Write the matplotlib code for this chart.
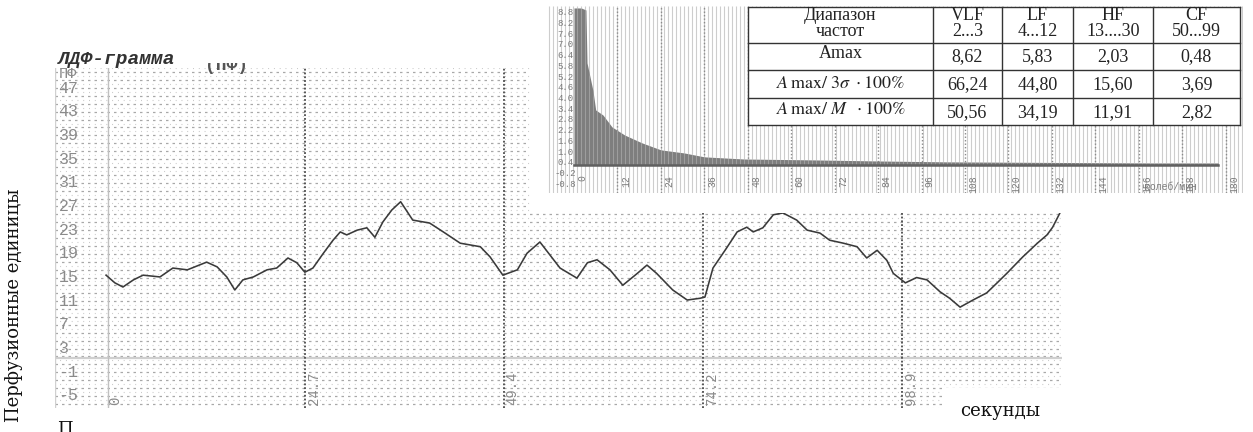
import numpy as np
import matplotlib
matplotlib.use("Agg")
import matplotlib.pyplot as plt
from matplotlib.patches import Rectangle

plt.rcParams['mathtext.fontset'] = 'stix'

# ---------------- data ----------------
ldf_time = [0.0, 1.1, 2.1, 3.4, 4.6, 6.7, 8.3, 10.1, 12.5, 13.8, 15.0, 16.0, 17.0, 18.3,
            20.0, 21.2, 22.6, 23.7, 24.7, 25.7, 27.0, 28.2, 29.1, 29.9, 31.2, 32.4, 33.4,
            34.4, 35.5, 36.6, 38.1, 40.2, 41.9, 44.0, 46.5, 47.7, 49.3, 51.1, 52.3, 53.9,
            56.4, 58.5, 59.8, 61.0, 62.6, 64.2, 66.0, 67.2, 68.4, 70.4, 72.2, 73.8, 74.4,
            75.4, 77.1, 78.4, 79.6, 80.4, 81.6, 82.9, 84.1, 85.8, 87.1, 88.7, 89.9, 91.6,
            93.3, 94.5, 95.8, 97.0, 97.8, 99.3, 100.7, 102.0, 103.6, 104.8, 106.1, 107.7,
            109.4, 110.7, 111.9, 113.9, 115.7, 116.9, 117.6, 118.5, 119.0]
ldf_value = [15.4, 14.1, 13.4, 14.6, 15.4, 15.1, 16.6, 16.3, 17.6, 16.8, 15.1, 12.9, 14.6, 15.1,
             16.3, 16.6, 18.3, 17.5, 15.9, 16.6, 19.1, 21.3, 22.7, 22.2, 23.0, 23.4, 21.8,
             24.4, 26.4, 27.8, 24.7, 24.2, 22.7, 20.8, 20.2, 18.5, 15.4, 16.3, 19.1, 21.0,
             16.6, 14.9, 17.5, 18.0, 16.3, 13.7, 15.7, 17.1, 15.7, 12.9, 11.2, 11.5, 11.7,
             16.6, 20.0, 22.7, 23.5, 22.7, 23.4, 25.6, 25.9, 24.7, 23.0, 22.5, 21.3, 20.8,
             20.2, 18.3, 19.6, 17.9, 15.7, 14.1, 15.0, 14.6, 12.6, 11.5, 10.0, 11.2,
             12.4, 14.1, 15.7, 18.5, 20.8, 22.2, 23.5, 25.9, 28.9]

time_ticks = [0, 24.7, 49.4, 74.2, 98.9]
time_tick_labels = ["0", "24.7", "49.4", "74.2", "98.9"]
perf_ticks = [47, 43, 39, 35, 31, 27, 23, 19, 15, 11, 7, 3, -1, -5]
perf_tick_labels = ["47", "43", "39", "35", "31", "27", "23", "19", "15", "11", "7", "3", "-1", "-5"]
perf_unit = "ПФ"

spec_freq = [0, 2, 3.3, 3.6, 5.2, 6, 8, 10.5, 14, 18.8, 24, 30.4, 36, 47, 66, 84, 103, 130, 160, 178]
spec_amp = [9.06, 9.06, 8.95, 5.99, 4.48, 3.36, 3.08, 2.41, 1.96, 1.52, 1.13, 0.96, 0.74, 0.62,
            0.57, 0.51, 0.46, 0.43, 0.40, 0.40]
spec_base = 0.29
spec_freq_ticks = [0, 12, 24, 36, 48, 60, 72, 84, 96, 108, 120, 132, 144, 156, 168, 180]
spec_amp_ticks = [-0.8, -0.2, 0.4, 1.0, 1.6, 2.2, 2.8, 3.4, 4.0, 4.6, 5.2, 5.8, 6.4, 7.0, 7.6, 8.2, 8.8]

table_header_top = ["Диапазон", "VLF", "LF", "HF", "CF"]
table_header_bottom = ["частот", "2...3", "4...12", "13....30", "50...99"]
table_row_labels = ["Amax",
                    r"$A\,\mathrm{max/\ 3}\sigma\ \cdot\mathrm{100\%}$",
                    r"$A\,\mathrm{max/\ }M\ \ \cdot\mathrm{100\%}$"]
table_values = [["8,62", "5,83", "2,03", "0,48"],
                ["66,24", "44,80", "15,60", "3,69"],
                ["50,56", "34,19", "11,91", "2,82"]]

# ---------------- layout helpers ----------------
W, H = 1253, 432
fig = plt.figure(figsize=(W / 100, H / 100), dpi=100)


def fx(px):
    return px / W


def fy(py):
    return 1 - py / H


def box(x0, y0, x1, y1):
    return [fx(x0), fy(y1), (x1 - x0) / W, (y1 - y0) / H]


MONO = 'Liberation Mono'
GRAY_TXT = '#8a8a8a'

# ---------------- main LDF chart ----------------
ax = fig.add_axes(box(55, 68, 1062, 408))
ax.set_xlim(-6.34, 118.76)
ax.set_ylim(-7.03, 50.38)
ax.set_axis_off()

for k in range(-82, 6):
    y = 47 + k * (2 / 3)
    if k % 2 == 0:
        ax.axhline(y, color='#a8a8a8', lw=0.9, linestyle=(0, (2.0, 3.2)), zorder=1)
    else:
        ax.axhline(y, color='#c4c4c4', lw=0.8, linestyle=(1, (0.8, 4.4)), zorder=1)

ax.axhline(1.4, color='#cfcfcf', lw=1.6, zorder=1)
ax.axvline(-6.3, color='#d0d0d0', lw=1.0, zorder=1)

for t in time_ticks:
    if t == 0:
        ax.axvline(t + 0.25, color='#c0c0c0', lw=1.0, zorder=2)
    else:
        ax.axvline(t, color='#4a4a4a', lw=1.3, linestyle=(0, (1, 1.1)), zorder=2)

for t, lab in zip(time_ticks, time_tick_labels):
    ax.text(t + 1.1, -6.6, lab, rotation=90, ha='center', va='bottom',
            family=MONO, fontsize=10, color=GRAY_TXT, zorder=4)

for v, lab in zip(perf_ticks, perf_tick_labels):
    ax.text(-5.9, v, lab, ha='left', va='center', family=MONO, fontsize=12,
            color=GRAY_TXT, zorder=4)
ax.text(-5.9, perf_ticks[0] + 2.3, perf_unit, ha='left', va='center', family=MONO,
        fontsize=11, color=GRAY_TXT, zorder=4)

ax.plot(ldf_time, ldf_value, color='#3a3a3a', lw=1.15, zorder=5)

# title of the LDF chart
fig.text(fx(58), fy(60), "ЛДФ-грамма", family=MONO, weight='bold', style='italic',
         fontsize=14, color='#333333', va='center', ha='left')
fig.text(fx(205), fy(66), "(ПФ)", family=MONO, weight='bold', fontsize=13,
         color='#555555', va='center', ha='left', zorder=3)
fig.add_artist(Rectangle((fx(196), fy(63)), (303 - 196) / W, 40 / H,
                         transform=fig.transFigure, facecolor='white',
                         edgecolor='none', zorder=4))

# white paper of the inset and of the axis label
fig.add_artist(Rectangle((fx(530), fy(213)), (W - 530) / W, 213 / H,
                         transform=fig.transFigure, facecolor='white',
                         edgecolor='none', zorder=1))
fig.add_artist(Rectangle((fx(942), fy(409)), (1063 - 942) / W, 21 / H,
                         transform=fig.transFigure, facecolor='white',
                         edgecolor='none', zorder=1))

# ---------------- spectrum inset ----------------
axs = fig.add_axes(box(548, 6, 1243, 193))
axs.set_zorder(2)
axs.set_xlim(-7.18, 184.8)
axs.set_ylim(-1.28, 9.17)
axs.set_axis_off()

stripes = np.arange(-6.9, 184.8, 1.1)
axs.vlines(stripes, -1.28, 9.17, color='#cdcdcd', lw=0.8, zorder=1)
axs.vlines(spec_freq_ticks[1:], -1.28, 9.17, color='#8a8a8a', lw=1.0,
           linestyles=(0, (1, 1.5)), zorder=2)

poly = axs.fill_between(spec_freq, spec_base, spec_amp, color='#7e7e7e', lw=0, zorder=3)
over = axs.vlines(stripes, -1.28, 9.17, color='white', lw=0.7, alpha=0.25, zorder=4)
over.set_clip_path(poly.get_paths()[0], axs.transData)
axs.plot([spec_freq[0], spec_freq[-1]], [spec_base, spec_base], color='#606060',
         lw=1.8, zorder=4)

for v in spec_amp_ticks:
    axs.text(-2.3, v, f"{v:.1f}", ha='center', va='center', family=MONO,
             fontsize=6.5, color='#7a7a7a', zorder=5)
for f in spec_freq_ticks:
    axs.text(f + 2.3, -0.27, str(f), rotation=90, ha='center', va='top',
             family=MONO, fontsize=7, color='#7a7a7a', zorder=5)
axs.text(157.5, -0.95, "колеб/мин", ha='left', va='center', family=MONO,
         fontsize=7, color='#7a7a7a', zorder=5)

# ---------------- table ----------------
axt = fig.add_axes(box(748, 7, 1240, 125))
axt.set_zorder(3)
axt.set_xlim(748, 1240)
axt.set_ylim(125, 7)
axt.set_axis_off()
axt.add_patch(Rectangle((748, 7), 492, 118, facecolor='white', edgecolor='none', zorder=1))

col_edges = [748, 933, 1002, 1073, 1153, 1240]
row_edges = [7, 43, 70, 98, 125]
for xe in col_edges:
    axt.plot([xe, xe], [row_edges[0], row_edges[-1]], color='#333333', lw=1.0,
             zorder=2, clip_on=False)
for ye in row_edges:
    axt.plot([col_edges[0], col_edges[-1]], [ye, ye], color='#333333', lw=1.0,
             zorder=2, clip_on=False)

col_centers = [(a + b) / 2 for a, b in zip(col_edges[:-1], col_edges[1:])]
TXT = dict(family='Liberation Serif', fontsize=13, color='#222222', ha='center',
           va='center', zorder=3)
for cx, top, bot in zip(col_centers, table_header_top, table_header_bottom):
    axt.text(cx, 16, top, **TXT)
    axt.text(cx, 31, bot, **TXT)

row_label_y = [53, 83, 110]
row_value_y = [57, 85, 113]
for lab, ly, vy, vals in zip(table_row_labels, row_label_y, row_value_y, table_values):
    axt.text(col_centers[0], ly, lab, **TXT)
    for cx, val in zip(col_centers[1:], vals):
        axt.text(cx, vy, val, **TXT)

# ---------------- outer axis labels ----------------
fig.text(fx(14), fy(305), "Перфузионные единицы", rotation=90, ha='center',
         va='center', family='DejaVu Serif', fontsize=13, color='#111111')
fig.text(fx(1000), fy(411), "секунды", ha='center', va='center',
         family='DejaVu Serif', fontsize=13, color='#111111', zorder=3)
fig.text(fx(57), fy(430), "П", ha='left', va='center', family='DejaVu Serif',
         fontsize=13, color='#111111')

fig.savefig("out.png", dpi=100)
